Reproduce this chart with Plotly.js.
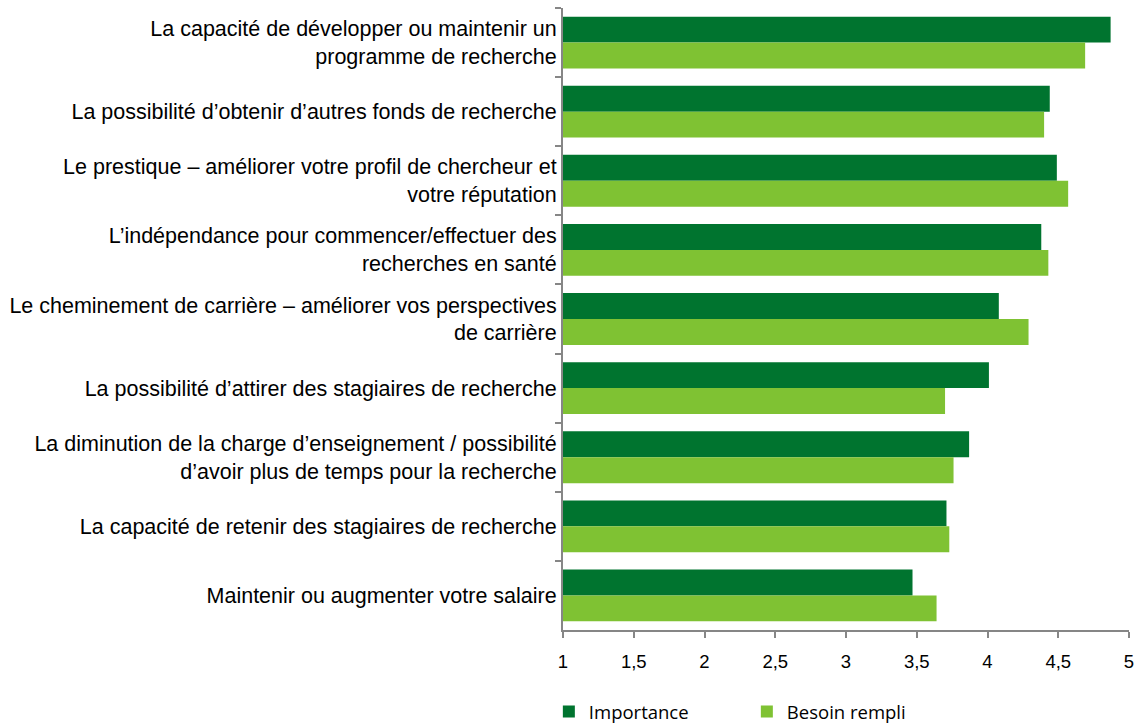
<!DOCTYPE html>
<html>
<head>
<meta charset="utf-8">
<script src="https://cdn.plot.ly/plotly-3.0.1.min.js"></script>
<style>html,body{margin:0;padding:0;background:#fff;}#chart{width:1137px;height:725px;}</style>
</head>
<body>
<div id="chart"></div>
<script>
const categories = [
  "La capacité de développer ou maintenir un<br>programme de recherche",
  "La possibilité d’obtenir d’autres fonds de recherche",
  "Le prestique – améliorer votre profil de chercheur et<br>votre réputation",
  "L’indépendance pour commencer/effectuer des<br>recherches en santé",
  "Le cheminement de carrière – améliorer vos perspectives<br>de carrière",
  "La possibilité d’attirer des stagiaires de recherche",
  "La diminution de la charge d’enseignement / possibilité<br>d’avoir plus de temps pour la recherche",
  "La capacité de retenir des stagiaires de recherche",
  "Maintenir ou augmenter votre salaire"
];
const importance = [4.87, 4.44, 4.49, 4.38, 4.08, 4.01, 3.87, 3.71, 3.47];
const besoinRempli = [4.69, 4.40, 4.57, 4.43, 4.29, 3.70, 3.76, 3.73, 3.64];
const xTickVals = [1, 1.5, 2, 2.5, 3, 3.5, 4, 4.5, 5];
const xTickText = ["1", "1,5", "2", "2,5", "3", "3,5", "4", "4,5", "5"];
const axisStart = 1;

const traces = [
  {type: "bar", orientation: "h", name: "Importance", y: categories,
   x: importance.map(v => v - axisStart), base: axisStart, marker: {color: "#00742F"}},
  {type: "bar", orientation: "h", name: "Besoin rempli", y: categories,
   x: besoinRempli.map(v => v - axisStart), base: axisStart, marker: {color: "#7FC233"}}
];

const layout = {
  width: 1137, height: 725,
  margin: {l: 563, r: 8, t: 8, b: 95},
  paper_bgcolor: "#fff", plot_bgcolor: "#fff",
  barmode: "group", bargap: 0.25, bargroupgap: 0,
  font: {family: "Liberation Sans", size: 21, color: "#000"},
  xaxis: {range: [1, 5], tickvals: xTickVals, ticktext: xTickText,
          showgrid: false, zeroline: false, showline: true, linecolor: "#868686", linewidth: 2,
          ticks: "outside", ticklen: 6, tickcolor: "#868686", tickwidth: 2,
          ticklabelstandoff: 8,
          tickfont: {family: "Liberation Sans", size: 18.5, color: "#000"}, automargin: false},
  yaxis: {autorange: "reversed", type: "category", showgrid: false, zeroline: false,
          showline: true, linecolor: "#868686", linewidth: 2,
          ticks: "outside", tickson: "boundaries", ticklen: 6, tickcolor: "#868686", tickwidth: 2,
          tickfont: {family: "Liberation Sans", size: 21.5, color: "#000"}, automargin: false},
  showlegend: true,
  legend: {orientation: "h", x: -0.025, xanchor: "left",
           yref: "container", y: 0.018, yanchor: "middle",
           entrywidth: 153, entrywidthmode: "pixels",
           font: {family: "Open Sans", size: 18.5, color: "#000"},
           traceorder: "normal"}
};
Plotly.newPlot("chart", traces, layout, {displayModeBar: false, staticPlot: true});
</script>
</body>
</html>
